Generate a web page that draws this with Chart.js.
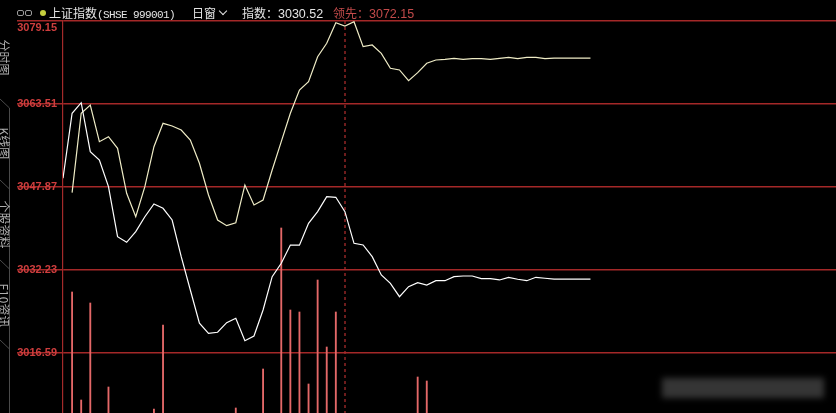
<!DOCTYPE html>
<html>
<head>
<meta charset="utf-8">
<script src="https://cdn.jsdelivr.net/npm/chart.js@4.4.0/dist/chart.umd.min.js"></script>
<style>
  html, body { margin: 0; padding: 0; background: #000; overflow: hidden; }
  #wrap { position: relative; width: 836px; height: 413px; }
  #chart { position: absolute; left: 0; top: 0; }
  .hdr { position: absolute; top: 3px; height: 20px; line-height: 20px; font-size: 12px; color: #e4e4e4;
         font-family: "Noto Sans CJK SC", sans-serif; white-space: nowrap; }
  .mono { font-family: "Liberation Mono", monospace; font-size: 11px; letter-spacing: -0.6px; }
  .num { font-family: "Liberation Sans", sans-serif; font-size: 12.5px; }
  .red { color: #c24a4a; }
  .tab { position: absolute; left: -16px; width: 40px; text-align: center; font-size: 12px; color: #b0b0b0;
         font-family: "Noto Sans CJK SC", sans-serif; transform: rotate(90deg); white-space: nowrap; }
  .mark { position: absolute; left: 662px; top: 378px; width: 162px; height: 20px; background: rgba(140,140,140,0.38);
          filter: blur(3px); }
</style>
</head>
<body>
<div id="wrap">
  <canvas id="chart" width="836" height="413"></canvas>

  <!-- header bar -->
  <div style="position:absolute;left:17px;top:10px;width:5px;height:4px;border:1.5px solid #9a9a9a;border-radius:2px;"></div>
  <div style="position:absolute;left:25px;top:10px;width:5px;height:4px;border:1.5px solid #9a9a9a;border-radius:2px;"></div>
  <div style="position:absolute;left:40px;top:10px;width:6px;height:6px;border-radius:50%;background:#c6cf3e;"></div>
  <div class="hdr" style="left:49px;">上证指数<span class="mono">(SHSE 999001)</span></div>
  <div class="hdr" style="left:192px;">日窗</div>
  <div style="position:absolute;left:220px;top:8px;width:5px;height:5px;border-right:1.5px solid #e4e4e4;border-bottom:1.5px solid #e4e4e4;transform:rotate(45deg);"></div>
  <div class="hdr" style="left:242px;">指数：<span class="num">3030.52</span></div>
  <div class="hdr red" style="left:333px;">领先：<span class="num">3072.15</span></div>

  <!-- left side tabs -->
  <svg style="position:absolute;left:0;top:0;" width="12" height="413">
    <line x1="9.5" y1="108" x2="9.5" y2="413" stroke="#4a4a4a" stroke-width="1"/>
    <line x1="0" y1="99" x2="9.5" y2="108" stroke="#4a4a4a" stroke-width="1"/>
    <line x1="0" y1="180" x2="9.5" y2="189" stroke="#4a4a4a" stroke-width="1"/>
    <line x1="0" y1="260" x2="9.5" y2="269" stroke="#4a4a4a" stroke-width="1"/>
    <line x1="0" y1="340" x2="9.5" y2="349" stroke="#4a4a4a" stroke-width="1"/>
  </svg>
  <div class="tab" style="top:49px;">分时图</div>
  <div class="tab" style="top:135px;">K线图</div>
  <div class="tab" style="top:212px;">个股资料</div>
  <div class="tab" style="top:295px;">F10资讯</div>

  <div class="mark"></div>
</div>

<script>
// index (white) and leading index (cream), one value per time step
const indexValues = [
  3049.51, 3061.76, 3063.75, 3054.52, 3052.96, 3047.93, 3038.50, 3037.45, 3039.45, 3042.27,
  3044.67, 3043.86, 3041.65, 3034.74, 3028.46, 3022.19, 3020.30, 3020.50, 3022.30, 3023.13,
  3018.91, 3019.79, 3024.69, 3030.97, 3033.49, 3036.94, 3036.90, 3041.03, 3043.22, 3046.04,
  3045.93, 3043.22, 3037.26, 3036.94, 3034.74, 3031.29, 3029.72, 3027.20, 3029.08, 3029.84,
  3029.40, 3030.21, 3030.21, 3030.97, 3031.10, 3031.10, 3030.59, 3030.59, 3030.35, 3030.85,
  3030.48, 3030.21, 3030.85, 3030.67, 3030.52, 3030.52, 3030.52, 3030.52, 3030.52
];
const leadValues = [
  null, 3046.80, 3061.76, 3063.32, 3056.41, 3057.35, 3055.16, 3046.68, 3042.27, 3047.93,
  3055.46, 3059.87, 3059.36, 3058.61, 3056.73, 3052.34, 3046.36, 3041.65, 3040.58, 3041.14,
  3048.25, 3044.48, 3045.42, 3051.07, 3056.41, 3061.76, 3066.15, 3067.71, 3072.42, 3074.95,
  3078.83, 3078.21, 3079.02, 3074.31, 3074.63, 3073.06, 3070.24, 3069.92, 3067.90, 3069.41,
  3071.18, 3071.80, 3071.93, 3072.12, 3071.93, 3072.05, 3072.05, 3071.93, 3072.12, 3072.31,
  3072.05, 3072.31, 3072.31, 3072.05, 3072.15, 3072.15, 3072.15, 3072.15, 3072.15
];
const volumeValues = [
  null, 121, 13, 110, null, 26, null, null, null, null,
  4, 88, null, null, null, null, null, null, null, 5,
  null, null, 44, null, 185, 103, 101, 29, 133, 66,
  101, null, null, null, null, null, null, null, null, 36,
  32, null, null, null, null, null, null, null, null, null,
  null, null, null, null, null, null, null, null, null
];
const gridValues = [3016.59, 3032.23, 3047.87, 3063.51, 3079.15];
const yMin = 3005.28;
const yMax = 3079.15;
const slotCount = 85;
const crossIndex = 31;

const toPoints = arr => arr.map((v, i) => ({ x: i, y: v }));

// dashed crosshair behind the lines
const crossPlugin = {
  id: 'cross',
  beforeDatasetsDraw(chart) {
    const { ctx, chartArea, scales } = chart;
    const x = Math.round(scales.x.getPixelForValue(crossIndex));
    ctx.save();
    ctx.strokeStyle = '#a82c2c';
    ctx.lineWidth = 1.3;
    ctx.setLineDash([3, 3]);
    ctx.beginPath();
    ctx.moveTo(x, chartArea.top);
    ctx.lineTo(x, chartArea.bottom);
    ctx.stroke();
    ctx.restore();
  }
};

// price labels on the left, top one pushed below the border
const labelPlugin = {
  id: 'ylabels',
  afterDraw(chart) {
    const { ctx, chartArea, scales } = chart;
    ctx.save();
    ctx.font = 'bold 11px "Liberation Sans", Arial, sans-serif';
    ctx.fillStyle = '#cf3e3e';
    ctx.textAlign = 'right';
    ctx.textBaseline = 'middle';
    gridValues.forEach(v => {
      const y = Math.max(scales.y.getPixelForValue(v), chartArea.top + 7);
      ctx.fillText(v.toFixed(2), 57, y);
    });
    ctx.restore();
  }
};

const ctx = document.getElementById('chart').getContext('2d');
new Chart(ctx, {
  type: 'line',
  data: {
    datasets: [
      {
        type: 'bar',
        data: toPoints(volumeValues),
        yAxisID: 'vol',
        backgroundColor: '#e46868',
        barThickness: 1.2,
        order: 3
      },
      {
        data: toPoints(leadValues),
        borderColor: '#efecc6',
        borderWidth: 1.2,
        pointRadius: 0,
        tension: 0,
        order: 2
      },
      {
        data: toPoints(indexValues),
        borderColor: '#ffffff',
        borderWidth: 1.2,
        pointRadius: 0,
        tension: 0,
        order: 1
      }
    ]
  },
  options: {
    responsive: false,
    animation: false,
    events: [],
    layout: { padding: { top: 21, left: 0, right: 0, bottom: 0 } },
    plugins: { legend: { display: false }, tooltip: { enabled: false } },
    scales: {
      x: {
        type: 'linear',
        min: 0,
        max: slotCount,
        offset: false,
        display: false
      },
      y: {
        min: yMin,
        max: yMax,
        afterBuildTicks: scale => { scale.ticks = gridValues.map(v => ({ value: v })); },
        afterFit: scale => { scale.width = 63; },
        ticks: { display: false },
        grid: { color: '#a42828', tickColor: '#a42828', lineWidth: 1.4, drawTicks: true, tickLength: 46 },
        border: { display: true, color: '#a42a2a', width: 1.2 }
      },
      vol: {
        display: false,
        min: 0,
        max: 392
      }
    }
  },
  plugins: [crossPlugin, labelPlugin]
});
</script>
</body>
</html>
